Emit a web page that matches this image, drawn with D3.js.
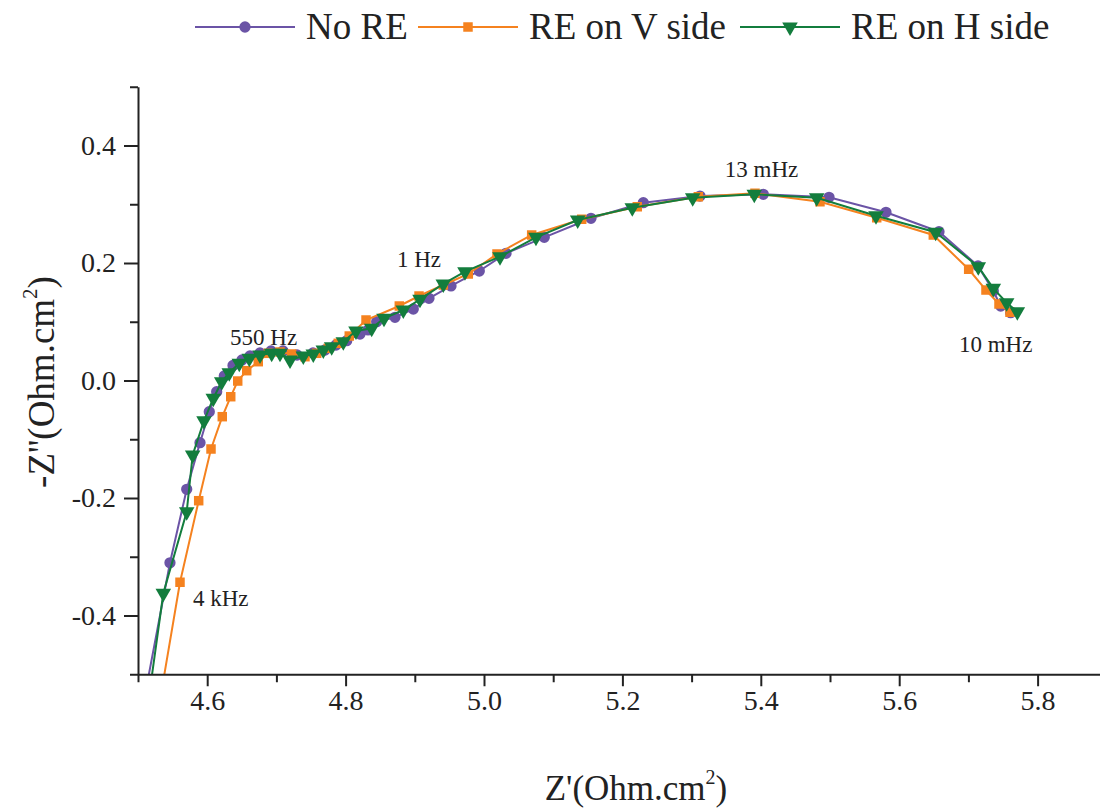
<!DOCTYPE html>
<html><head><meta charset="utf-8">
<script src="https://cdn.jsdelivr.net/npm/d3@7"></script>
<style>body{margin:0;background:#fff}svg{display:block}text{font-family:"Liberation Serif","Times New Roman",serif;fill:#222}</style>
</head><body>
<script>
const seriesNames = ["No RE", "RE on V side", "RE on H side"];
const seriesColors = ["#6b54a6", "#f5821f", "#137d3d"];
const seriesSymbols = ["circle", "square", "triangle"];

const noRE_x = [4.5087,4.5462,4.5704,4.5896,4.6030,4.6137,4.6247,4.6373,4.6503,4.6618,4.6763,4.6922,4.7095,4.7298,4.7529,4.7702,4.7861,4.8016,4.8208,4.8324,4.8449,4.8714,4.8978,4.9205,4.9523,4.9932,5.0318,5.0871,5.1546,5.2302,5.3121,5.4036,5.4986,5.5809,5.6575,5.7139,5.7360,5.7467,5.7611];
const noRE_y = [-0.5438,-0.3103,-0.1852,-0.1059,-0.0531,-0.0191,0.0077,0.0255,0.0349,0.0417,0.0468,0.0502,0.0502,0.0434,0.0468,0.0519,0.0604,0.0677,0.0791,0.0860,0.1001,0.1076,0.1217,0.1399,0.1609,0.1864,0.2165,0.2437,0.2761,0.3026,0.3140,0.3169,0.3118,0.2863,0.2533,0.1949,0.1523,0.1268,0.1154];

const reV_x = [4.5318,4.5607,4.5877,4.6055,4.6218,4.6340,4.6441,4.6571,4.6738,4.6883,4.7052,4.7221,4.7413,4.7582,4.7750,4.7894,4.8053,4.8295,4.8776,4.9061,4.9412,4.9773,5.0188,5.0689,5.1412,5.2215,5.3097,5.3916,5.4855,5.5675,5.6493,5.7004,5.7254,5.7442,5.7601];
const reV_y = [-0.5438,-0.3435,-0.2046,-0.1166,-0.0616,-0.0276,-0.0009,0.0167,0.0320,0.0463,0.0485,0.0451,0.0405,0.0463,0.0548,0.0633,0.0757,0.1030,0.1268,0.1438,0.1626,0.1813,0.2153,0.2477,0.2744,0.2958,0.3129,0.3186,0.3043,0.2771,0.2477,0.1893,0.1540,0.1302,0.1161];

const reH_x = [4.5152,4.5366,4.5704,4.5790,4.5954,4.6088,4.6210,4.6319,4.6464,4.6608,4.6763,4.6932,4.7052,4.7197,4.7389,4.7533,4.7678,4.7799,4.7967,4.8150,4.8377,4.8555,4.8834,4.9075,4.9412,4.9725,5.0231,5.0751,5.1354,5.2143,5.3016,5.3906,5.4808,5.5665,5.6527,5.7143,5.7360,5.7553,5.7707];
const reH_y = [-0.5438,-0.3622,-0.2233,-0.1268,-0.0684,-0.0303,-0.0020,0.0133,0.0293,0.0378,0.0434,0.0463,0.0463,0.0349,0.0417,0.0451,0.0519,0.0575,0.0660,0.0843,0.0889,0.1059,0.1200,0.1382,0.1643,0.1852,0.2107,0.2437,0.2732,0.2941,0.3111,0.3169,0.3111,0.2805,0.2523,0.1937,0.1569,0.1324,0.1171];

const xMajorTicks = [4.6, 4.8, 5.0, 5.2, 5.4, 5.6, 5.8];
const xMinorTicks = [4.5, 4.7, 4.9, 5.1, 5.3, 5.5, 5.7, 5.9];
const yMajorTicks = [-0.4, -0.2, 0.0, 0.2, 0.4];
const yMinorTicks = [-0.5, -0.3, -0.1, 0.1, 0.3, 0.5];

const annLabels = ["4 kHz", "550 Hz", "1 Hz", "13 mHz", "10 mHz"];
const annX = [4.5795, 4.633, 4.8743, 5.348, 5.6864];
const annY = [-0.383, 0.060, 0.193, 0.347, 0.0485];

const W = 1100, H = 811;
const svg = d3.select("body").append("svg").attr("width", W).attr("height", H);
const x = d3.scaleLinear().domain([4.5, 5.9]).range([138, 1106.8]);
const y = d3.scaleLinear().domain([-0.5, 0.5]).range([674.25, 86.75]);

svg.append("clipPath").attr("id", "clip").append("rect")
  .attr("x", 138).attr("y", 86.75).attr("width", 980).attr("height", 587.5);

const data = [
  d3.zip(noRE_x, noRE_y),
  d3.zip(reV_x, reV_y),
  d3.zip(reH_x, reH_y)
];
const symType = {circle: d3.symbolCircle, square: d3.symbolSquare, triangle: d3.symbolTriangle};
const symSize = {circle: 100, square: 90, triangle: 105};

const line = d3.line().x(d => x(d[0])).y(d => y(d[1]));
const plot = svg.append("g").attr("clip-path", "url(#clip)");
data.forEach((pts, i) => {
  const g = plot.append("g");
  g.append("path").datum(pts).attr("d", line).attr("fill", "none")
    .attr("stroke", seriesColors[i]).attr("stroke-width", 2);
  g.selectAll("path.m").data(pts).join("path").attr("class", "m")
    .attr("d", d3.symbol().type(symType[seriesSymbols[i]]).size(symSize[seriesSymbols[i]]))
    .attr("transform", d => `translate(${x(d[0])},${y(d[1])})` + (seriesSymbols[i] === "triangle" ? " rotate(180)" : ""))
    .attr("fill", seriesColors[i]);
});

const fmt = d => d3.format(".1f")(d).replace("\u2212", "-");

// axes
const ax = svg.append("g").attr("transform", `translate(0,${y(-0.5)})`);
ax.call(d3.axisBottom(x).tickValues(xMajorTicks).tickSize(12).tickSizeOuter(0).tickFormat(fmt).tickPadding(4));
ax.append("g").call(d3.axisBottom(x).tickValues(xMinorTicks).tickSize(8).tickFormat(""))
  .select(".domain").remove();
const ay = svg.append("g").attr("transform", `translate(138,0)`);
ay.call(d3.axisLeft(y).tickValues(yMajorTicks).tickSize(14).tickSizeOuter(0).tickFormat(fmt).tickPadding(8));
ay.append("g").call(d3.axisLeft(y).tickValues(yMinorTicks).tickSize(8).tickFormat(""))
  .select(".domain").remove();
svg.selectAll(".domain").attr("stroke", "#222").attr("stroke-width", 2);
svg.selectAll(".tick line").attr("stroke", "#222").attr("stroke-width", 2);
svg.selectAll(".tick text").attr("font-family", "Liberation Serif").attr("font-size", 28).attr("fill", "#222");

// axis titles
const xt = svg.append("text").attr("x", 636).attr("y", 800).attr("text-anchor", "middle").attr("font-size", 35);
xt.append("tspan").text("Z'(Ohm.cm");
xt.append("tspan").attr("font-size", 20).attr("dy", -16).text("2");
xt.append("tspan").attr("dy", 16).text(")");
const yt = svg.append("text").attr("transform", "translate(54,382) rotate(-90)").attr("text-anchor", "middle").attr("font-size", 37);
yt.append("tspan").text("-Z''(Ohm.cm");
yt.append("tspan").attr("font-size", 21).attr("dy", -17).text("2");
yt.append("tspan").attr("dy", 17).text(")");

// annotations
annLabels.forEach((t, i) => {
  svg.append("text").attr("x", x(annX[i])).attr("y", y(annY[i])).attr("font-size", 23)
    .attr("text-anchor", "start").text(t);
});

// legend
const legX = [195, 418, 740];
seriesNames.forEach((n, i) => {
  const g = svg.append("g").attr("transform", `translate(${legX[i]},27)`);
  g.append("line").attr("x1", 0).attr("x2", 100).attr("stroke", seriesColors[i]).attr("stroke-width", 2);
  g.append("path").attr("d", d3.symbol().type(symType[seriesSymbols[i]]).size(symSize[seriesSymbols[i]])())
    .attr("transform", `translate(50,0)` + (seriesSymbols[i] === "triangle" ? " rotate(180)" : ""))
    .attr("fill", seriesColors[i]);
  g.append("text").attr("x", 111).attr("y", 12).attr("font-size", 37).text(n);
});
</script>
</body></html>
